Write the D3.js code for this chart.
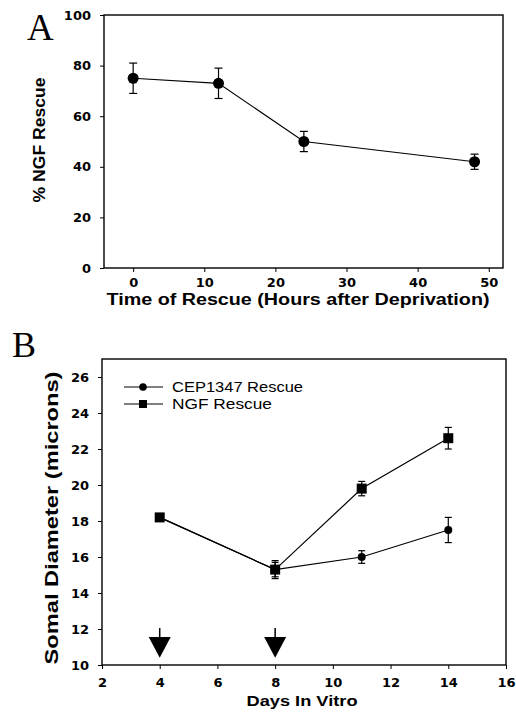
<!DOCTYPE html>
<html>
<head>
<meta charset="utf-8">
<script src="https://cdn.jsdelivr.net/npm/d3@7"></script>
<style>
  body { margin: 0; background: #fff; }
</style>
</head>
<body>
<div id="chart"></div>
<script>
// panel A data
let hoursA = [0, 12, 24, 48];
let rescueA = [75, 73, 50, 42];
let errA = [6, 6, 4, 3];
let xTicksA = [0, 10, 20, 30, 40, 50];
let yTicksA = [0, 20, 40, 60, 80, 100];

// panel B data
let daysB = [4, 8, 11, 14];
let cepB = [18.2, 15.3, 16.0, 17.5];
let cepErrB = [0.1, 0.4, 0.35, 0.7];
let ngfB = [18.2, 15.3, 19.8, 22.6];
let ngfErrB = [0.1, 0.5, 0.4, 0.6];
let arrowDays = [4, 8];
let xTicksB = [2, 4, 6, 8, 10, 12, 14, 16];
let yTicksB = [10, 12, 14, 16, 18, 20, 22, 24, 26];

let sans = "Arial, 'Liberation Sans', sans-serif"
let serif = "'Liberation Serif', 'Times New Roman', serif"

let svg = d3.select("#chart")
  .append("svg")
  .attr("width", 516)
  .attr("height", 713)

// ---------------- panel A ----------------
let xA = d3.scaleLinear().domain([-4.1, 52]).range([104, 503])
let yA = d3.scaleLinear().domain([0, 100]).range([268, 15])

let gA = svg.append("g")

gA.append("rect")
  .attr("x", 104).attr("y", 15)
  .attr("width", 503 - 104).attr("height", 268 - 15)
  .attr("fill", "none").attr("stroke", "#000").attr("stroke-width", 1.4)

gA.append("g")
  .attr("transform", "translate(0,268)")
  .call(d3.axisBottom(xA).tickValues(xTicksA).tickSize(4).tickPadding(6))
  .call(styleAxis)

gA.append("g")
  .attr("transform", "translate(104,0)")
  .call(d3.axisLeft(yA).tickValues(yTicksA).tickSize(4).tickPadding(9))
  .call(styleAxis)

let lineA = d3.line().x((d, i) => xA(hoursA[i])).y(d => yA(d))
gA.append("path")
  .attr("d", lineA(rescueA))
  .attr("fill", "none").attr("stroke", "#000").attr("stroke-width", 1.2)

drawErr(gA, hoursA, rescueA, errA, xA, yA, 4)

gA.selectAll("circle.pt")
  .data(rescueA)
  .enter().append("circle")
  .attr("cx", (d, i) => xA(hoursA[i]))
  .attr("cy", d => yA(d))
  .attr("r", 5.5)

label(gA, 298, 305, 0, "Time of Rescue (Hours after Deprivation)", 16, 383)
label(gA, 45, 140, -90, "% NGF Rescue", 16, 125)

svg.append("text")
  .attr("x", 27).attr("y", 40)
  .style("font-family", serif)
  .style("font-size", "37px")
  .text("A")

// ---------------- panel B ----------------
let xB = d3.scaleLinear().domain([2, 16]).range([102, 506])
let yB = d3.scaleLinear().domain([10, 27]).range([665, 359])

let gB = svg.append("g")

gB.append("rect")
  .attr("x", 102).attr("y", 359)
  .attr("width", 506 - 102).attr("height", 665 - 359)
  .attr("fill", "none").attr("stroke", "#000").attr("stroke-width", 1.4)

gB.append("g")
  .attr("transform", "translate(0,665)")
  .call(d3.axisBottom(xB).tickValues(xTicksB).tickSize(4).tickPadding(9))
  .call(styleAxis)

gB.append("g")
  .attr("transform", "translate(102,0)")
  .call(d3.axisLeft(yB).tickValues(yTicksB).tickSize(4).tickPadding(9))
  .call(styleAxis)

let lineB = d3.line().x((d, i) => xB(daysB[i])).y(d => yB(d))
gB.append("path")
  .attr("d", lineB(cepB))
  .attr("fill", "none").attr("stroke", "#000").attr("stroke-width", 1.2)
gB.append("path")
  .attr("d", lineB(ngfB))
  .attr("fill", "none").attr("stroke", "#000").attr("stroke-width", 1.2)

drawErr(gB, daysB, cepB, cepErrB, xB, yB, 3.5)
drawErr(gB, daysB, ngfB, ngfErrB, xB, yB, 3.5)

gB.selectAll("circle.cep")
  .data(cepB)
  .enter().append("circle")
  .attr("cx", (d, i) => xB(daysB[i]))
  .attr("cy", d => yB(d))
  .attr("r", 4)

gB.selectAll("rect.ngf")
  .data(ngfB)
  .enter().append("rect")
  .attr("x", (d, i) => xB(daysB[i]) - 5)
  .attr("y", d => yB(d) - 5)
  .attr("width", 10).attr("height", 10)

// arrows marking the days of treatment
arrowDays.forEach(d => {
  let cx = xB(d)
  gB.append("line")
    .attr("x1", cx).attr("x2", cx)
    .attr("y1", yB(12.05)).attr("y2", yB(11.4))
    .attr("stroke", "#000").attr("stroke-width", 1.5)
  gB.append("path")
    .attr("d", `M${cx - 11},${yB(11.55)} L${cx + 11},${yB(11.55)} L${cx},${yB(10.4)} Z`)
    .attr("fill", "#000")
})

// legend
let legend = [
  {name: "CEP1347 Rescue", y: 387, shape: "circle", w: 131},
  {name: "NGF Rescue", y: 404, shape: "square", w: 100}
]
legend.forEach(l => {
  gB.append("line")
    .attr("x1", 124).attr("x2", 163)
    .attr("y1", l.y).attr("y2", l.y)
    .attr("stroke", "#000").attr("stroke-width", 1.2)
  if (l.shape == "circle") {
    gB.append("circle").attr("cx", 143).attr("cy", l.y).attr("r", 3.8)
  } else {
    gB.append("rect").attr("x", 139).attr("y", l.y - 4).attr("width", 8).attr("height", 8)
  }
  gB.append("text")
    .attr("x", 172).attr("y", l.y + 5)
    .attr("textLength", l.w).attr("lengthAdjust", "spacingAndGlyphs")
    .style("font-family", sans)
    .style("font-size", "14px")
    .text(l.name)
})

label(gB, 302, 706, 0, "Days In Vitro", 15, 111)
label(gB, 58, 518, -90, "Somal Diameter (microns)", 18, 293)

svg.append("text")
  .attr("x", 12).attr("y", 357)
  .style("font-family", serif)
  .style("font-size", "36px")
  .text("B")

function label(g, x, y, rot, txt, size, len) {
  g.append("text")
    .attr("transform", `translate(${x},${y}) rotate(${rot})`)
    .attr("text-anchor", "middle")
    .attr("textLength", len).attr("lengthAdjust", "spacingAndGlyphs")
    .style("font-family", sans)
    .style("font-weight", "bold")
    .style("font-size", size + "px")
    .text(txt)
}

function styleAxis(g) {
  g.select(".domain").remove()
  g.selectAll(".tick line").attr("stroke", "#000").attr("stroke-width", 1)
  g.selectAll(".tick text")
    .style("font-family", "'DejaVu Sans', sans-serif")
    .style("font-size", "13px")
    .style("font-weight", "bold")
    .attr("fill", "#000")
}

function drawErr(g, xs, ys, es, xs_, ys_, cap) {
  ys.forEach((v, i) => {
    let cx = xs_(xs[i])
    let top = ys_(v + es[i]), bot = ys_(v - es[i])
    g.append("line").attr("x1", cx).attr("x2", cx).attr("y1", top).attr("y2", bot)
      .attr("stroke", "#000").attr("stroke-width", 1.2)
    g.append("line").attr("x1", cx - cap).attr("x2", cx + cap).attr("y1", top).attr("y2", top)
      .attr("stroke", "#000").attr("stroke-width", 1.2)
    g.append("line").attr("x1", cx - cap).attr("x2", cx + cap).attr("y1", bot).attr("y2", bot)
      .attr("stroke", "#000").attr("stroke-width", 1.2)
  })
}
</script>
</body>
</html>
